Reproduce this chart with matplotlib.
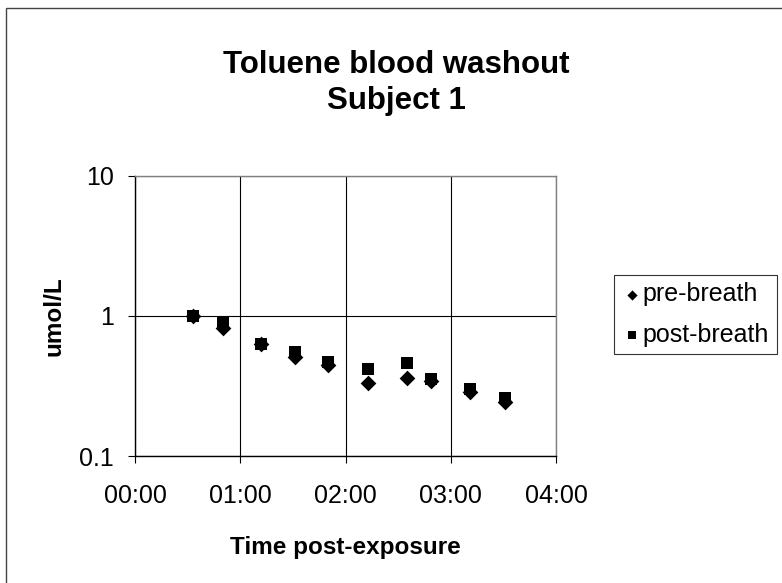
import matplotlib
matplotlib.use("Agg")
import matplotlib.pyplot as plt
from matplotlib.ticker import FuncFormatter, FixedLocator, NullLocator
from matplotlib.patches import Rectangle

# Sampling times (minutes after end of exposure)
time_min = [33, 50, 72, 91, 110, 133, 155, 169, 191, 211]

# Toluene concentration in blood (umol/L)
pre_breath = [1.00, 0.82, 0.63, 0.51, 0.45, 0.33, 0.36, 0.345, 0.285, 0.242]
post_breath = [1.00, 0.91, 0.63, 0.55, 0.467, 0.42, 0.465, 0.355, 0.30, 0.261]

x_ticks = [0, 60, 120, 180, 240]
y_ticks = [0.1, 1, 10]

plt.rcParams['font.family'] = ['Liberation Sans', 'DejaVu Sans']

fig = plt.figure(figsize=(7.82, 5.83), dpi=100)
W, H = 782, 583

# outer chart border
fig.patches.append(Rectangle((6 / W, -0.05), 1.2, 1 - 8 / H + 0.05,
                             transform=fig.transFigure, fill=False,
                             edgecolor='#444444', linewidth=1.0))

ax = fig.add_axes([135 / W, 1 - 456 / H, (556 - 135) / W, (456 - 176) / H])

ax.scatter(time_min, pre_breath, marker='D', s=8 ** 2, color='black',
           label='pre-breath', zorder=3, linewidths=0)
ax.scatter(time_min, post_breath, marker='s', s=8.5 ** 2, color='black',
           label='post-breath', zorder=3, linewidths=0)

ax.set_yscale('log')
ax.set_ylim(0.1, 10)
ax.set_xlim(0, 240)
ax.yaxis.set_major_locator(FixedLocator(y_ticks))
ax.yaxis.set_minor_locator(NullLocator())
ax.yaxis.set_major_formatter(FuncFormatter(lambda v, p: f"{v:g}"))
ax.xaxis.set_major_locator(FixedLocator(x_ticks))
ax.xaxis.set_major_formatter(
    FuncFormatter(lambda v, p: f"{int(v) // 60:02d}:{int(v) % 60:02d}"))

ax.grid(True, color='black', linewidth=0.8)
ax.set_axisbelow(True)

for side in ('top', 'right'):
    ax.spines[side].set_color('#808080')
    ax.spines[side].set_linewidth(1.0)
for side in ('left', 'bottom'):
    ax.spines[side].set_color('black')
    ax.spines[side].set_linewidth(1.0)

ax.tick_params(axis='both', direction='out', length=5, width=0.8,
               labelsize=18, colors='black')
ax.tick_params(axis='y', pad=10)
ax.tick_params(axis='x', pad=15)

ax.set_xlabel('Time post-exposure', fontsize=17.5, fontweight='bold',
              labelpad=20)
ax.set_ylabel('umol/L', fontsize=17.5, fontweight='bold', labelpad=10)

fig.text(396 / W, 1 - 83 / H, 'Toluene blood washout\nSubject 1',
         ha='center', va='center', fontsize=22.5, fontweight='bold',
         linespacing=1.25)

leg = fig.legend(loc='upper left', bbox_to_anchor=(614 / W, 1 - 275 / H),
                 fontsize=18, frameon=True, fancybox=False,
                 edgecolor='black', handletextpad=0.05, handlelength=0.8,
                 borderpad=0.3, labelspacing=0.65, borderaxespad=0,
                 markerscale=0.65)
leg.get_frame().set_linewidth(0.8)

fig.savefig('out.png', dpi=100)
